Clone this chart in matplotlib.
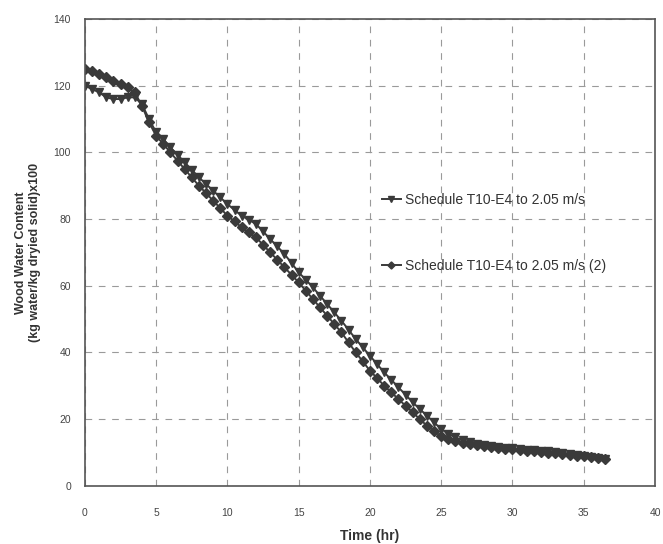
import matplotlib.pyplot as plt

# time in hours, one reading every half hour
time_hr = [i * 0.5 for i in range(74)]

# Schedule T10-E4 to 2.05 m/s  (starts lower, lags behind later)
sched_1 = [120.0, 119.0, 118.0, 116.5, 116.0, 116.0, 116.5, 116.5, 114.5, 110.0,
           106.0, 104.0, 101.5, 99.3, 97.0, 94.8, 92.5, 90.5, 88.5, 86.5,
           84.5, 82.7, 81.0, 79.8, 78.5, 76.3, 74.0, 71.8, 69.5, 66.8,
           64.0, 61.8, 59.5, 57.0, 54.5, 52.0, 49.5, 46.8, 44.0, 41.5,
           39.0, 36.5, 34.0, 31.8, 29.5, 27.3, 25.0, 23.0, 21.0, 19.0,
           17.0, 15.6, 14.5, 13.7, 13.0, 12.6, 12.3, 12.0, 11.7, 11.4,
           11.2, 11.0, 10.8, 10.6, 10.5, 10.3, 10.1, 9.9, 9.6, 9.3,
           9.0, 8.7, 8.4, 8.1]

# Schedule T10-E4 to 2.05 m/s (2)  (starts higher)
sched_2 = [125.0, 124.5, 123.5, 122.5, 121.5, 120.5, 119.5, 118.0, 114.0, 109.0,
           105.0, 102.5, 100.0, 97.5, 95.0, 92.5, 90.0, 87.8, 85.5, 83.3,
           81.0, 79.3, 77.5, 76.0, 74.5, 72.3, 70.0, 67.8, 65.5, 63.3,
           61.0, 58.5, 56.0, 53.5, 51.0, 48.5, 46.0, 43.0, 40.0, 37.3,
           34.5, 32.3, 30.0, 28.0, 26.0, 24.0, 22.0, 20.0, 18.0, 16.4,
           14.8, 14.0, 13.3, 12.9, 12.6, 12.3, 12.0, 11.7, 11.4, 11.1,
           10.9, 10.7, 10.5, 10.3, 10.1, 9.9, 9.7, 9.5, 9.3, 9.0,
           8.8, 8.5, 8.2, 7.9]

x_ticks = [0, 5, 10, 15, 20, 25, 30, 35, 40]
y_ticks = [0, 20, 40, 60, 80, 100, 120, 140]

plt.rcParams["font.family"] = ["Liberation Sans", "DejaVu Sans"]

fig = plt.figure(figsize=(6.63, 5.44), dpi=100)
ax = fig.add_axes([0.128, 0.107, 0.86, 0.858])

line_col = "#3a3a3a"
ax.plot(time_hr, sched_1, color=line_col, lw=1.4, marker="v", ms=5.5,
        mfc=line_col, mec=line_col, label="Schedule T10-E4 to 2.05 m/s")
ax.plot(time_hr, sched_2, color=line_col, lw=1.4, marker="D", ms=4.8,
        mfc=line_col, mec=line_col, label="Schedule T10-E4 to 2.05 m/s (2)")

ax.set_xlim(0, 40)
ax.set_ylim(0, 140)
ax.set_xticks(x_ticks)
ax.set_yticks(y_ticks)
ax.tick_params(axis="x", length=0, labelsize=7.5, colors="#444444", pad=16)
ax.tick_params(axis="y", length=0, labelsize=7.5, colors="#444444", pad=10)
ax.grid(True, color="#9a9a9a", ls=(0, (6, 6)), lw=0.8)

for s in ax.spines.values():
    s.set_color("#555555")
    s.set_linewidth(1.2)

ax.set_xlabel("Time (hr)", fontsize=10, fontweight="bold", color="#333333", labelpad=8)
ax.set_ylabel("Wood Water Content\n(kg water/kg dryied solid)x100", fontsize=9,
              fontweight="bold", color="#333333", labelpad=9)

leg = ax.legend(loc="upper left", bbox_to_anchor=(0.5, 0.655), frameon=False,
                fontsize=10, labelspacing=3.75, handlelength=1.3, handletextpad=0.3,
                markerscale=0.75)
for t in leg.get_texts():
    t.set_color("#333333")

plt.savefig("out.png", dpi=100)
